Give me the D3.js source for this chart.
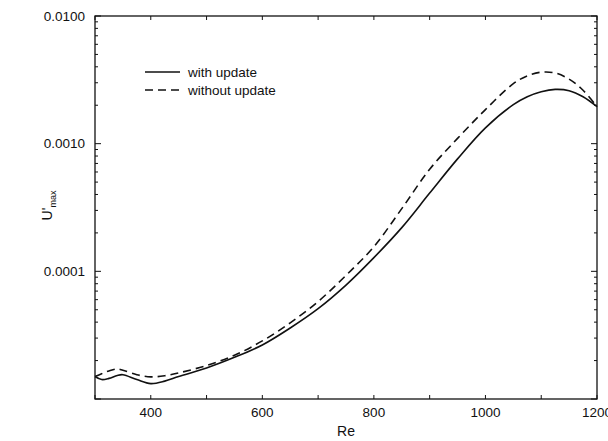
<!DOCTYPE html>
<html>
<head>
<meta charset="utf-8">
<script src="https://cdn.jsdelivr.net/npm/d3@7/dist/d3.min.js"></script>
<style>
  html, body { margin: 0; padding: 0; background: #fff; }
  svg { display: block; }
  text { font-family: "Liberation Sans", Arial, Helvetica, sans-serif; fill: #111; }
</style>
</head>
<body>
<svg id="chart" width="608" height="441"></svg>
<script>
// Reynolds numbers at which the disturbance amplitude is sampled
const re = [300, 312, 325, 340, 350, 375, 400, 425, 450, 500, 550, 600, 650, 700,
            750, 800, 850, 900, 950, 1000, 1050, 1075, 1100, 1125, 1150, 1175, 1200];

// Maximum streamwise disturbance velocity, base flow updated
const withUpdate = [1.50e-5, 1.42e-5, 1.45e-5, 1.53e-5, 1.55e-5, 1.42e-5, 1.32e-5, 1.38e-5,
                    1.50e-5, 1.75e-5, 2.12e-5, 2.65e-5, 3.6e-5, 5.1e-5, 7.8e-5, 1.28e-4,
                    2.2e-4, 4.1e-4, 7.6e-4, 1.33e-3, 2.02e-3, 2.33e-3, 2.55e-3, 2.66e-3,
                    2.60e-3, 2.33e-3, 1.95e-3];

// Same quantity, base flow held fixed
const withoutUpdate = [1.50e-5, 1.58e-5, 1.66e-5, 1.72e-5, 1.68e-5, 1.55e-5, 1.49e-5, 1.52e-5,
                       1.60e-5, 1.83e-5, 2.2e-5, 2.85e-5, 3.95e-5, 5.8e-5, 9.3e-5, 1.56e-4,
                       3.1e-4, 6.3e-4, 1.10e-3, 1.85e-3, 2.95e-3, 3.40e-3, 3.63e-3, 3.58e-3,
                       3.20e-3, 2.62e-3, 1.95e-3];

const xTickValues = [400, 600, 800, 1000, 1200];
const yTickValues = [1e-4, 1e-3, 1e-2];
const yTickLabels = ["0.0001", "0.0010", "0.0100"];
const legendLabels = ["with update", "without update"];

const svg = d3.select("#chart");
const mLeft = 95, mRight = 597, mTop = 16, mBottom = 399;

const x = d3.scaleLinear().domain([300, 1200]).range([mLeft, mRight]);
const y = d3.scaleLog().domain([1e-5, 1e-2]).range([mBottom, mTop]);

// Minor ticks: every 100 in Re, and 2..9 within each decade
const xMinor = d3.range(300, 1201, 100);
const yMinor = [];
for (let e = -5; e < -2; e++) {
  for (let k = 1; k <= 9; k++) yMinor.push(k * Math.pow(10, e));
}
yMinor.push(1e-2);

const ax = svg.append("g").attr("stroke", "#111").attr("stroke-width", 1);

// Frame
ax.append("rect")
  .attr("x", mLeft).attr("y", mTop)
  .attr("width", mRight - mLeft).attr("height", mBottom - mTop)
  .attr("fill", "none").attr("stroke-width", 1.3);

// Ticks on all four sides, pointing inward
xMinor.forEach(v => {
  const xx = x(v);
  ax.append("line").attr("x1", xx).attr("x2", xx).attr("y1", mBottom).attr("y2", mBottom - 4);
  ax.append("line").attr("x1", xx).attr("x2", xx).attr("y1", mTop).attr("y2", mTop + 4);
});
yMinor.forEach(v => {
  const yy = y(v);
  const major = Math.abs(Math.log10(v) - Math.round(Math.log10(v))) < 1e-9;
  const len = major ? 6 : 3;
  ax.append("line").attr("x1", mLeft).attr("x2", mLeft + len).attr("y1", yy).attr("y2", yy);
  ax.append("line").attr("x1", mRight).attr("x2", mRight - len).attr("y1", yy).attr("y2", yy);
});

// Tick labels
svg.append("g").selectAll("text").data(xTickValues).join("text")
  .attr("x", d => x(d)).attr("y", 417)
  .attr("text-anchor", "middle").attr("font-size", 13.5)
  .text(d => d);

svg.append("g").selectAll("text").data(yTickValues).join("text")
  .attr("x", mLeft - 10).attr("y", d => y(d) + 4.5)
  .attr("text-anchor", "end").attr("font-size", 13.5)
  .text((d, i) => yTickLabels[i]);

// Axis titles
svg.append("text")
  .attr("x", (mLeft + mRight) / 2).attr("y", 436)
  .attr("text-anchor", "middle").attr("font-size", 14)
  .text("Re");

const yt = svg.append("text")
  .attr("transform", `translate(52, ${(mTop + mBottom) / 2 - 2}) rotate(-90)`)
  .attr("text-anchor", "middle").attr("font-size", 14);
yt.append("tspan").text("U'");
yt.append("tspan").attr("font-size", 9).attr("dy", 4).text("max");

// Curves
const line = d3.line()
  .x(d => x(d[0]))
  .y(d => y(d[1]))
  .curve(d3.curveCatmullRom.alpha(0.5));

const series = [
  { values: withUpdate, dash: null },
  { values: withoutUpdate, dash: "8,5" }
];

const plot = svg.append("g");
series.forEach(s => {
  plot.append("path")
    .datum(re.map((r, i) => [r, s.values[i]]))
    .attr("d", line)
    .attr("fill", "none")
    .attr("stroke", "#111")
    .attr("stroke-width", 1.6)
    .attr("stroke-dasharray", s.dash);
});

// Legend
const legend = svg.append("g");
series.forEach((s, i) => {
  const ly = 72 + i * 18;
  legend.append("line")
    .attr("x1", 145).attr("x2", 180).attr("y1", ly).attr("y2", ly)
    .attr("stroke", "#111").attr("stroke-width", 1.5)
    .attr("stroke-dasharray", s.dash);
  legend.append("text")
    .attr("x", 188).attr("y", ly + 4.5)
    .attr("font-size", 13.5)
    .text(legendLabels[i]);
});
</script>
</body>
</html>
